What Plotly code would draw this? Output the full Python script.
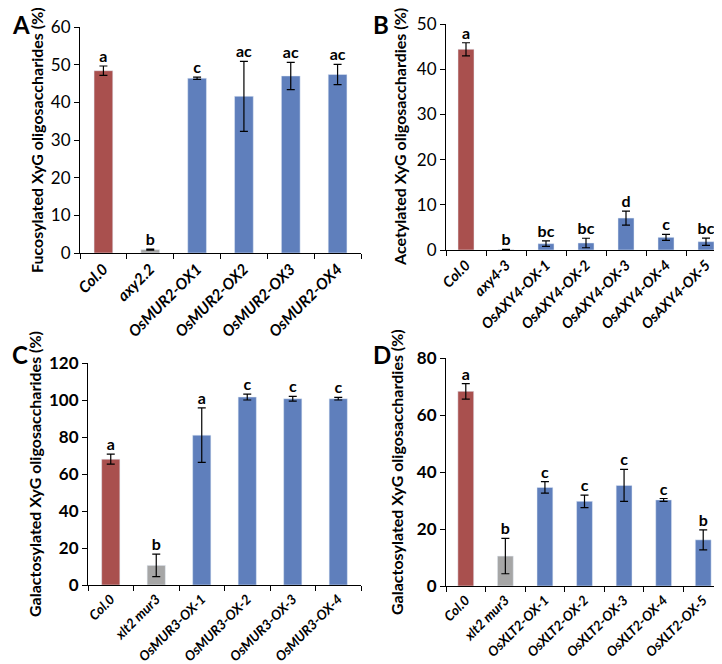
import plotly.graph_objects as go

# panel A - fucosylated
a_labels = ['Col.0', 'axy2.2', 'OsMUR2-OX1', 'OsMUR2-OX2', 'OsMUR2-OX3', 'OsMUR2-OX4']
a_values = [48.4, 0.9, 46.4, 41.6, 47.0, 47.4]
a_errors = [1.25, 0.15, 0.3, 9.3, 3.6, 2.7]
a_letters = ['a', 'b', 'c', 'ac', 'ac', 'ac']

# panel B - acetylated
b_labels = ['Col.0', 'axy4-3', 'OsAXY4-OX-1', 'OsAXY4-OX-2', 'OsAXY4-OX-3', 'OsAXY4-OX-4', 'OsAXY4-OX-5']
b_values = [44.4, 0.1, 1.4, 1.55, 7.07, 2.8, 1.84]
b_errors = [1.45, 0.05, 0.6, 1.05, 1.55, 0.65, 0.8]
b_letters = ['a', 'b', 'bc', 'bc', 'd', 'c', 'bc']

# panel C - galactosylated (MUR3)
c_labels = ['Col.0', 'xlt2 mur3', 'OsMUR3-OX-1', 'OsMUR3-OX-2', 'OsMUR3-OX-3', 'OsMUR3-OX-4']
c_values = [68.0, 10.6, 81.0, 101.6, 100.7, 100.7]
c_errors = [2.7, 6.1, 14.7, 1.6, 1.3, 0.7]
c_letters = ['a', 'b', 'a', 'c', 'c', 'c']

# panel D - galactosylated (XLT2)
d_labels = ['Col.0', 'xlt2 mur3', 'OsXLT2-OX-1', 'OsXLT2-OX-2', 'OsXLT2-OX-3', 'OsXLT2-OX-4', 'OsXLT2-OX-5']
d_values = [68.3, 10.5, 34.6, 29.7, 35.3, 30.2, 16.2]
d_errors = [2.7, 6.2, 2.0, 2.2, 5.6, 0.5, 3.5]
d_letters = ['a', 'b', 'c', 'c', 'c', 'c', 'b']

RED = '#A9504E'
GREY = '#A6A6A6'
BLUE = '#5F7FBC'
W, H = 722, 664
FONT = 'Lato'

panels = [
    # name, labels, values, errors, letters, x0, x1, ytop, ybot, ymax, dtick, ytitle,
    # bold ticks, letter pos, title x, x label size
    ('A', a_labels, a_values, a_errors, a_letters, 72, 353, 19, 245, 60, 10,
     'Fucosylated XyG oligosaccharides (%)', False, (2, 0), 28, 15.5),
    ('B', b_labels, b_values, b_errors, b_letters, 438, 718, 16, 242, 50, 10,
     'Acetylated XyG oligosacchardies (%)', False, (363, 0), 392, 14.5),
    ('C', c_labels, c_values, c_errors, c_letters, 80, 353, 355, 577, 120, 20,
     'Galactosylated XyG oligosaccharides (%)', True, (2, 330), 27, 13.5),
    ('D', d_labels, d_values, d_errors, d_letters, 438, 715, 350, 578, 80, 20,
     'Galactosylated XyG oligosacchardies (%)', True, (363, 330), 388, 13.5),
]

fig = go.Figure()
layout = {}
annotations = []

for i, (name, labels, values, errors, letters, x0, x1, yt, yb, ymax, dtick, ytitle,
        bold, lpos, tx, xsize) in enumerate(panels):
    n = i + 1
    xa = 'x' if n == 1 else 'x%d' % n
    ya = 'y' if n == 1 else 'y%d' % n
    colors = [RED, GREY] + [BLUE] * (len(labels) - 2)
    fig.add_trace(go.Bar(
        x=labels, y=values, marker_color=colors, width=0.4,
        error_y=dict(type='data', array=errors, color='black', thickness=1.2, width=4),
        xaxis=xa, yaxis=ya, showlegend=False))
    tops = [v + e for v, e in zip(values, errors)]
    fig.add_trace(go.Scatter(
        x=labels, y=tops, mode='text', text=['<b>%s</b>' % t for t in letters],
        textposition='top center', textfont=dict(size=16, color='black', family=FONT),
        xaxis=xa, yaxis=ya, showlegend=False, cliponaxis=False))

    layout['xaxis' if n == 1 else 'xaxis%d' % n] = dict(
        domain=[x0 / W, x1 / W], anchor=ya, type='category', automargin=False,
        tickvals=labels, ticktext=['<b><i>%s</i></b>' % l for l in labels],
        tickangle=-45, tickfont=dict(size=xsize, color='black', family=FONT),
        showline=True, linecolor='black', linewidth=1.2,
        ticks='outside', tickson='boundaries', ticklen=5, tickcolor='black',
        showgrid=False, zeroline=False)
    ticktext = [('<b>%d</b>' % v) if bold else str(v) for v in range(0, ymax + 1, dtick)]
    layout['yaxis' if n == 1 else 'yaxis%d' % n] = dict(
        domain=[1 - yb / H, 1 - yt / H], anchor=xa, range=[0, ymax], automargin=False,
        tickvals=list(range(0, ymax + 1, dtick)), ticktext=ticktext,
        tickfont=dict(size=17, color='black', family=FONT),
        showline=True, linecolor='black', linewidth=1.2,
        ticks='outside', ticklen=5, tickcolor='black',
        showgrid=False, zeroline=False)
    # y axis title as rotated annotation so it can sit exactly where the reference has it
    annotations.append(dict(
        text='<b>%s</b>' % ytitle, x=tx / W, y=1 - (yt + yb) / 2 / H, textangle=-90,
        xref='paper', yref='paper', xanchor='center', yanchor='middle', showarrow=False,
        font=dict(size=16, color='black', family=FONT)))
    annotations.append(dict(
        text='<b>%s</b>' % name, x=lpos[0] / W, y=1 - lpos[1] / H,
        xref='paper', yref='paper', xanchor='left', yanchor='top', showarrow=False,
        font=dict(size=24, color='black', family=FONT)))

fig.update_layout(
    width=W, height=H,
    margin=dict(l=0, r=0, t=0, b=0),
    plot_bgcolor='white', paper_bgcolor='white',
    annotations=annotations,
    bargap=0.6,
    **layout
)

fig.write_html("out.html")
